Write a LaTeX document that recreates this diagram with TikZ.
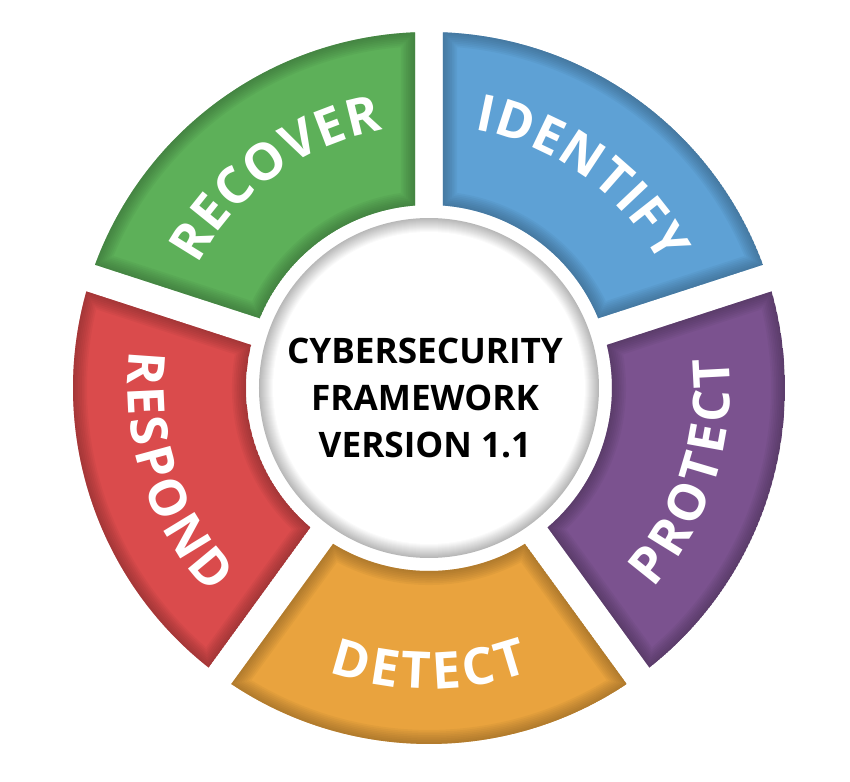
\documentclass[tikz,border=0pt]{standalone}
\usepackage{fontspec}
\setmainfont{Open Sans}
\usetikzlibrary{decorations.text}
\definecolor{cfBlue}  {RGB}{ 94,161,213}
\definecolor{cfPurple}{RGB}{123, 82,143}
\definecolor{cfOrange}{RGB}{233,163, 62}
\definecolor{cfRed}   {RGB}{218, 75, 76}
\definecolor{cfGreen} {RGB}{ 93,176, 89}
\newcommand{\labelfont}{\bfseries\fontsize{29}{30}\selectfont}
\newcommand{\segshape}[2]{({#1-\dOut}:\rOut) arc[start angle={#1-\dOut},end angle={#2+\dOut},radius=\rOut]
  -- ({#2+\dIn}:\rIn) arc[start angle={#2+\dIn},end angle={#1-\dIn},radius=\rIn] -- cycle}

\begin{document}
\begin{tikzpicture}[
  x=0.02cm, y=0.02cm,
  ringlabel/.style 2 args={decorate,decoration={text effects along path,text={#1},
              text align=center,text effects/.cd,text along path,
              characters={text=white,font=\labelfont},
              character widths={font=\labelfont,inner xsep=#2}}},
  title/.style={align=center,font=\bfseries\fontsize{20}{27}\selectfont}
]
\useasboundingbox (-429,-394) rectangle (421,388);
\def\rOut{356} \def\rIn{183}
\pgfmathsetmacro{\dOut}{asin(14/356)}
\pgfmathsetmacro{\dIn}{asin(14/183)}

% five segments of the wheel, soft darker edge
\foreach \a/\b/\col in {90/18/cfBlue, 18/-54/cfPurple, -54/-126/cfOrange,
                        -126/-198/cfRed, 162/90/cfGreen}{
  \begin{scope}
    \clip \segshape{\a}{\b};
    \fill[\col] \segshape{\a}{\b};
    \foreach \w in {2,4,...,16}
      \draw[\col!50!black,line width=\w pt,opacity=.07] \segshape{\a}{\b};
  \end{scope}
}

% centre disc with grey rim
\foreach \i [evaluate=\i as \k using 28-2*\i] in {0,...,14}
  \fill[black!\k] (0,0) circle[radius={170-\i}];
\fill[white] (0,0) circle[radius=155];

% labels along the ring
\path[ringlabel={IDENTIFY}{0.3pt}] (90:262) arc[start angle=90,end angle=18,radius=262];
\path[ringlabel={RECOVER}{0.3pt}]  (162:262) arc[start angle=162,end angle=90,radius=262];
\path[ringlabel={PROTECT}{1.1pt}]  (-54:301) arc[start angle=-54,end angle=18,radius=301];
\path[ringlabel={DETECT}{1.1pt}]   (-126:301) arc[start angle=-126,end angle=-54,radius=301];
\path[ringlabel={RESPOND}{1.1pt}]  (162:301) arc[start angle=162,end angle=234,radius=301];

\node[title] (csf) at (-4,-10) {CYBERSECURITY\\FRAMEWORK\\VERSION 1.1};
\end{tikzpicture}
\end{document}
